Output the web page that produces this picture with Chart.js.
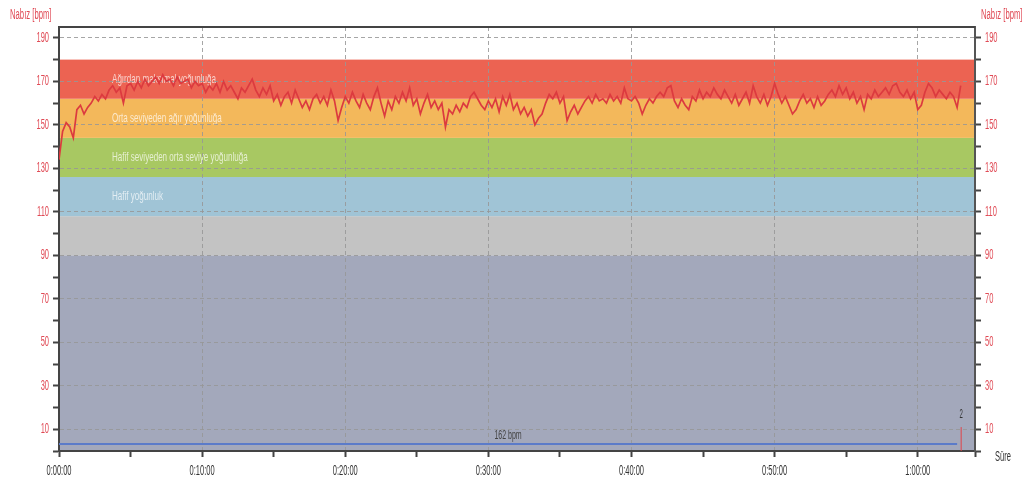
<!DOCTYPE html>
<html lang="tr">
<head>
<meta charset="utf-8">
<title>Nabız</title>
<script src="https://cdn.jsdelivr.net/npm/chart.js@4.4.1/dist/chart.umd.min.js"></script>
<style>
  html, body { margin: 0; padding: 0; background: #fff; }
  #wrap { width: 1022px; height: 484px; }
</style>
</head>
<body>
<div id="wrap"><canvas id="hr" width="1022" height="484"></canvas></div>
<script>
// heart rate, one value every 15 s
const sampleStepSec = 15;
const hrValues = [
    134, 147, 151, 149,  144, 157, 159, 155,  158, 160, 163, 161,  164, 162, 166, 168,
    165, 167, 160, 168,  169, 166, 170, 167,  171, 168, 170, 172,  169, 173, 170, 171,
    168, 172, 169, 170,  171, 167, 170, 168,  169, 165, 168, 166,  169, 165, 170, 166,
    168, 165, 162, 167,  165, 168, 171, 166,  163, 167, 164, 168,  161, 164, 159, 163,
    165, 160, 166, 162,  158, 161, 157, 162,  164, 160, 163, 159,  166, 161, 152, 158,
    163, 160, 165, 161,  158, 164, 160, 157,  163, 167, 160, 154,  161, 157, 163, 160,
    165, 161, 167, 159,  162, 155, 160, 164,  158, 161, 157, 160,  149, 157, 155, 159,
    156, 160, 158, 163,  165, 162, 159, 157,  161, 158, 162, 156,  163, 159, 164, 157,
    160, 155, 158, 154,  157, 150, 153, 155,  160, 164, 162, 165,  160, 163, 152, 156,
    159, 155, 158, 161,  163, 160, 164, 161,  162, 160, 164, 161,  163, 160, 167, 162,
    161, 163, 160, 155,  159, 162, 160, 163,  165, 163, 167, 168,  161, 158, 162, 159,
    157, 163, 161, 166,  162, 165, 163, 167,  164, 162, 166, 163,  160, 164, 159, 162,
    165, 160, 168, 163,  160, 164, 159, 163,  169, 164, 160, 163,  159, 155, 157, 161,
    164, 160, 162, 158,  163, 159, 161, 164,  166, 163, 168, 164,  167, 162, 165, 160,
    163, 157, 164, 162,  166, 163, 165, 167,  164, 168, 169, 165,  163, 166, 162, 165,
    157, 159, 165, 169,  167, 163, 166, 164,  162, 165, 163, 158,  168
];

// intensity zones (bpm limits) and their fills
const zoneLimits = [0, 90, 108, 126, 144, 162, 180];
const zoneColors = ['#a3a8bb', '#c3c3c3', '#a0c4d6', '#a8c862', '#f3b85b', '#ec6352'];
const zoneNames = [
    '',
    '',
    'Hafif yoğunluk',
    'Hafif seviyeden orta seviye yoğunluğa',
    'Orta seviyeden ağır yoğunluğa',
    'Ağırdan maksimal yoğunluğa'
];

// axes
const yMax = 195;
const yTickValues = [0, 10, 20, 30, 40, 50, 60, 70, 80, 90, 100, 110, 120, 130, 140, 150, 160, 170, 180, 190];
const yLabelValues = [10, 30, 50, 70, 90, 110, 130, 150, 170, 190];
const xMaxSec = 3840;
const xTickSeconds = [0, 300, 600, 900, 1200, 1500, 1800, 2100, 2400, 2700, 3000, 3300, 3600, 3840];
const xLabelSeconds = [0, 600, 1200, 1800, 2400, 3000, 3600];

// average bar and lap marker
const avgBpm = 162;
const avgBarLevel = 3.2;
const avgBarEndSec = 3765;
const lapSec = 3782;
const lapHeight = 11;
const lapLabel = '2';

const FONT = '"Liberation Sans", Arial, sans-serif';

function formatTime(sec) {
    const h = Math.floor(sec / 3600);
    const m = Math.floor((sec % 3600) / 60);
    const s = sec % 60;
    return h + ':' + String(m).padStart(2, '0') + ':' + String(s).padStart(2, '0');
}

// narrow text: the original uses a very condensed face
function drawNarrow(ctx, text, x, y, size, sx, color, align) {
    ctx.save();
    ctx.font = size + 'px ' + FONT;
    ctx.fillStyle = color;
    ctx.textBaseline = 'middle';
    ctx.textAlign = align;
    ctx.translate(x, y);
    ctx.scale(sx, 1);
    ctx.fillText(text, 0, 0);
    ctx.restore();
}

const zonesPlugin = {
    id: 'zones',
    beforeDraw(chart) {
        const { ctx, chartArea, scales } = chart;
        const y = scales.y;
        ctx.save();
        ctx.fillStyle = '#fff';
        ctx.fillRect(0, 0, chart.width, chart.height);
        for (let i = 0; i < zoneColors.length; i++) {
            const top = y.getPixelForValue(zoneLimits[i + 1]);
            const bottom = y.getPixelForValue(zoneLimits[i]);
            ctx.fillStyle = zoneColors[i];
            ctx.fillRect(chartArea.left, top, chartArea.right - chartArea.left, bottom - top);
        }
        for (let i = 0; i < zoneNames.length; i++) {
            if (!zoneNames[i]) continue;
            const mid = y.getPixelForValue((zoneLimits[i] + zoneLimits[i + 1]) / 2);
            drawNarrow(ctx, zoneNames[i], chartArea.left + 53, mid, 13, 0.62, 'rgba(255,255,255,0.7)', 'left');
        }
        ctx.restore();
    },
    afterDraw(chart) {
        const { ctx, chartArea, scales } = chart;
        const x = scales.x;
        const y = scales.y;
        // top frame line
        ctx.save();
        ctx.strokeStyle = '#444';
        ctx.lineWidth = 2;
        ctx.beginPath();
        ctx.moveTo(chartArea.left, chartArea.top);
        ctx.lineTo(chartArea.right, chartArea.top);
        ctx.stroke();
        ctx.restore();

        for (const v of yLabelValues) {
            const py = y.getPixelForValue(v);
            drawNarrow(ctx, String(v), chartArea.left - 10, py, 15, 0.5, '#e04a55', 'right');
            drawNarrow(ctx, String(v), chartArea.right + 10, py, 15, 0.5, '#e04a55', 'left');
        }
        for (const s of xLabelSeconds) {
            drawNarrow(ctx, formatTime(s), x.getPixelForValue(s), chartArea.bottom + 20, 15, 0.5, '#333', 'center');
        }
        drawNarrow(ctx, 'Nabız [bpm]', 10, 15, 14, 0.55, '#e04a55', 'left');
        drawNarrow(ctx, 'Nabız [bpm]', 981, 15, 14, 0.55, '#e04a55', 'left');
        drawNarrow(ctx, 'Süre', 995, chartArea.bottom + 6, 15, 0.5, '#333', 'left');

        const avgMid = x.getPixelForValue(avgBarEndSec / 2);
        drawNarrow(ctx, avgBpm + ' bpm', avgMid, y.getPixelForValue(avgBarLevel) - 9, 13, 0.54, '#444', 'center');
        drawNarrow(ctx, lapLabel, x.getPixelForValue(lapSec), y.getPixelForValue(lapHeight) - 12, 12, 0.5, '#333', 'center');
    }
};

const hrPoints = hrValues.map((v, i) => ({ x: i * sampleStepSec, y: v }));

const gridColorY = (c) => (c.tick && c.tick.value % 20 === 10) ? 'rgba(150,150,150,0.85)' : 'transparent';
const gridColorX = (c) => (c.tick && c.tick.value % 600 === 0) ? 'rgba(150,150,150,0.85)' : 'transparent';
const setYTicks = (scale) => { scale.ticks = yTickValues.map(v => ({ value: v })); };

new Chart(document.getElementById('hr'), {
    type: 'line',
    data: {
        datasets: [
            {
                data: hrPoints,
                borderColor: '#dc3a3f',
                borderWidth: 1.7,
                pointRadius: 0,
                tension: 0
            },
            {
                data: [{ x: 0, y: avgBarLevel }, { x: avgBarEndSec, y: avgBarLevel }],
                borderColor: '#5b7bc9',
                borderWidth: 2,
                pointRadius: 0
            },
            {
                data: [{ x: lapSec, y: 0 }, { x: lapSec, y: lapHeight }],
                borderColor: '#e0454a',
                borderWidth: 1,
                pointRadius: 0
            }
        ]
    },
    options: {
        responsive: false,
        animation: false,
        devicePixelRatio: 1,
        layout: { padding: { top: 27, left: 0, right: 0, bottom: 0 } },
        plugins: {
            legend: { display: false },
            tooltip: { enabled: false }
        },
        scales: {
            x: {
                type: 'linear',
                min: 0,
                max: xMaxSec,
                afterBuildTicks: (scale) => { scale.ticks = xTickSeconds.map(v => ({ value: v })); },
                afterFit: (scale) => { scale.height = 33; },
                ticks: { display: false },
                grid: { color: gridColorX, lineWidth: 1, tickLength: 6, tickColor: '#444', tickWidth: 2 },
                border: { color: '#444', width: 2, dash: [4, 3] }
            },
            y: {
                type: 'linear',
                position: 'left',
                min: 0,
                max: yMax,
                afterBuildTicks: setYTicks,
                afterFit: (scale) => { scale.width = 59; },
                ticks: { display: false },
                grid: { color: gridColorY, lineWidth: 1, tickLength: 6, tickColor: '#444', tickWidth: 2 },
                border: { color: '#444', width: 2, dash: [4, 3] }
            },
            y2: {
                type: 'linear',
                position: 'right',
                min: 0,
                max: yMax,
                afterBuildTicks: setYTicks,
                afterFit: (scale) => { scale.width = 47; },
                ticks: { display: false },
                grid: { drawOnChartArea: false, tickLength: 6, tickColor: '#444', tickWidth: 2 },
                border: { color: '#555', width: 2 }
            }
        }
    },
    plugins: [zonesPlugin]
});
</script>
</body>
</html>
